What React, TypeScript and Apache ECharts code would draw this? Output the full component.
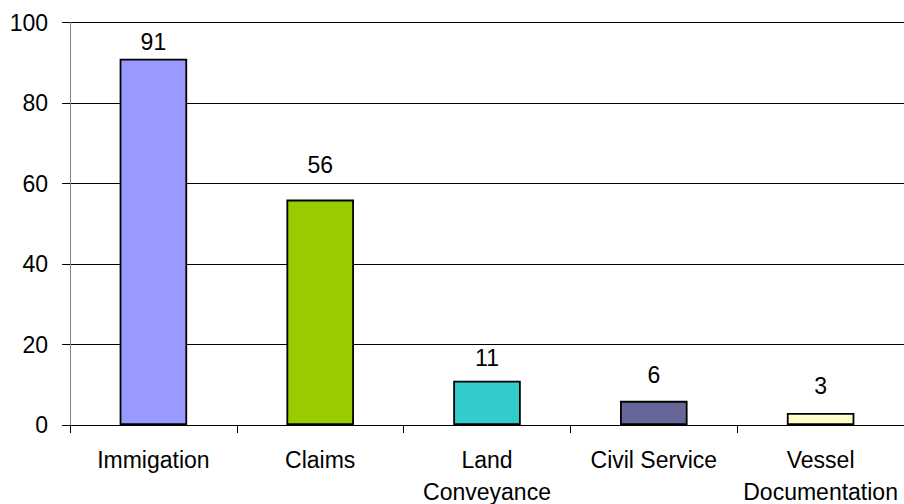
import React, { useEffect, useRef } from "react";
import * as echarts from "echarts";

const categories = ["Immigation", "Claims", "Land\nConveyance", "Civil Service", "Vessel\nDocumentation"];
const values = [91, 56, 11, 6, 3];
const colors = ["#9999FF", "#99CC00", "#33CCCC", "#666699", "#FFFFCC"];
const yTicks = { min: 0, max: 100, interval: 20 };

export default function App() {
  const ref = useRef<HTMLDivElement>(null);
  useEffect(() => {
    if (!ref.current) return;
    const chart = echarts.init(ref.current, undefined, { renderer: "svg" });
    const font = "Arial, 'Liberation Sans', sans-serif";
    const labelGaps = [5, 23, 11, 14, 15];
    chart.setOption({
      animation: false,
      backgroundColor: "#ffffff",
      grid: { left: 70, right: 0, top: 22.5, bottom: 79, containLabel: false, outerBoundsMode: "none" },
      xAxis: {
        type: "category",
        data: categories,
        axisLine: { lineStyle: { color: "#000", width: 1 } },
        axisTick: { show: true, length: 8, lineStyle: { color: "#000" } },
        axisLabel: {
          color: "#000",
          fontFamily: font,
          fontSize: 23,
          lineHeight: 32,
          margin: 19,
          interval: 0,
        },
      },
      yAxis: {
        type: "value",
        min: yTicks.min,
        max: yTicks.max,
        interval: yTicks.interval,
        axisLine: { show: true, lineStyle: { color: "#808080", width: 1 } },
        axisTick: { show: true, length: 8, lineStyle: { color: "#000" } },
        axisLabel: { color: "#000", fontFamily: font, fontSize: 23, margin: 22 },
        splitLine: { show: true, lineStyle: { color: "#000", width: 1 } },
      },
      series: [
        {
          type: "bar",
          data: values.map((v, i) => ({
            value: v,
            itemStyle: { color: colors[i] },
            label: { distance: labelGaps[i] },
          })),
          barWidth: "40.5%",
          itemStyle: { borderColor: "#000", borderWidth: 1.8 },
          label: {
            show: true,
            position: "top",
            color: "#000",
            fontFamily: font,
            fontSize: 23,
          },
        },
      ],
    });
    return () => chart.dispose();
  }, []);
  return (
    <div
      ref={ref}
      style={{ position: "fixed", left: 0, top: 0, width: 904, height: 504 }}
    />
  );
}
